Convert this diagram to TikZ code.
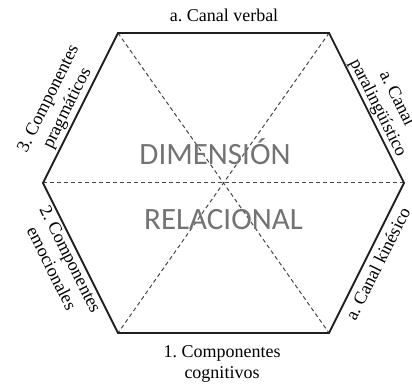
\documentclass[tikz,border=0pt]{standalone}
\usepackage{fontspec}
\setmainfont{Liberation Serif}
\newfontfamily\calibfont{Carlito}
\frenchspacing
\begin{document}
\begin{tikzpicture}[x=1pt,y=1pt,
  hexedge/.style={line width=1.8pt, black!88, line join=miter},
  diag/.style={line width=1pt, black!72, dash pattern=on 4pt off 3pt},
  lbl/.style={font=\fontsize{18}{21}\selectfont, align=center, inner sep=0pt},
  big/.style={font=\calibfont\fontsize{31}{36}\selectfont, text=black!55, inner sep=0pt}]
\clip (0,0) rectangle (412,387);
\coordinate (TL) at (118,354);
\coordinate (TR) at (329,354);
\coordinate (R) at (404,204);
\coordinate (BR) at (329,54);
\coordinate (BL) at (118,54);
\coordinate (L) at (43,204);
\draw[diag] (TL) -- (BR);
\draw[diag] (TR) -- (BL);
\draw[diag] (L) -- (R);
\draw[hexedge] (L) -- (TL) -- (TR) -- (R) -- (BR) -- (BL) -- cycle;
\node[big, anchor=base] (dim) at (215,222) {DIMENSIÓN};
\node[big, anchor=base] (rel) at (223.5,157) {RELACIONAL};
\node[lbl, anchor=base] (top) at (224,365) {a. Canal verbal};
\node[lbl, anchor=north] (bot) at (222,42) {1. Componentes\\cognitivos};
\node[lbl, inner sep=3pt, anchor=south, rotate=63.435] (prag) at (77.8,273.6) {3. Componentes\\pragmáticos};
\node[lbl, inner sep=3pt, anchor=north, rotate=-63.435] (emo) at (78.9,132.1) {2. Componentes\\emocionales};
\node[lbl, inner sep=1.5pt, anchor=south, rotate=-63.435] (para) at (368.7,274.5) {a. Canal\\paralingüístico};
\node[lbl, inner sep=6pt, anchor=north, rotate=63.435] (kin) at (366.5,129) {a. Canal kinésico};
\end{tikzpicture}
\end{document}
